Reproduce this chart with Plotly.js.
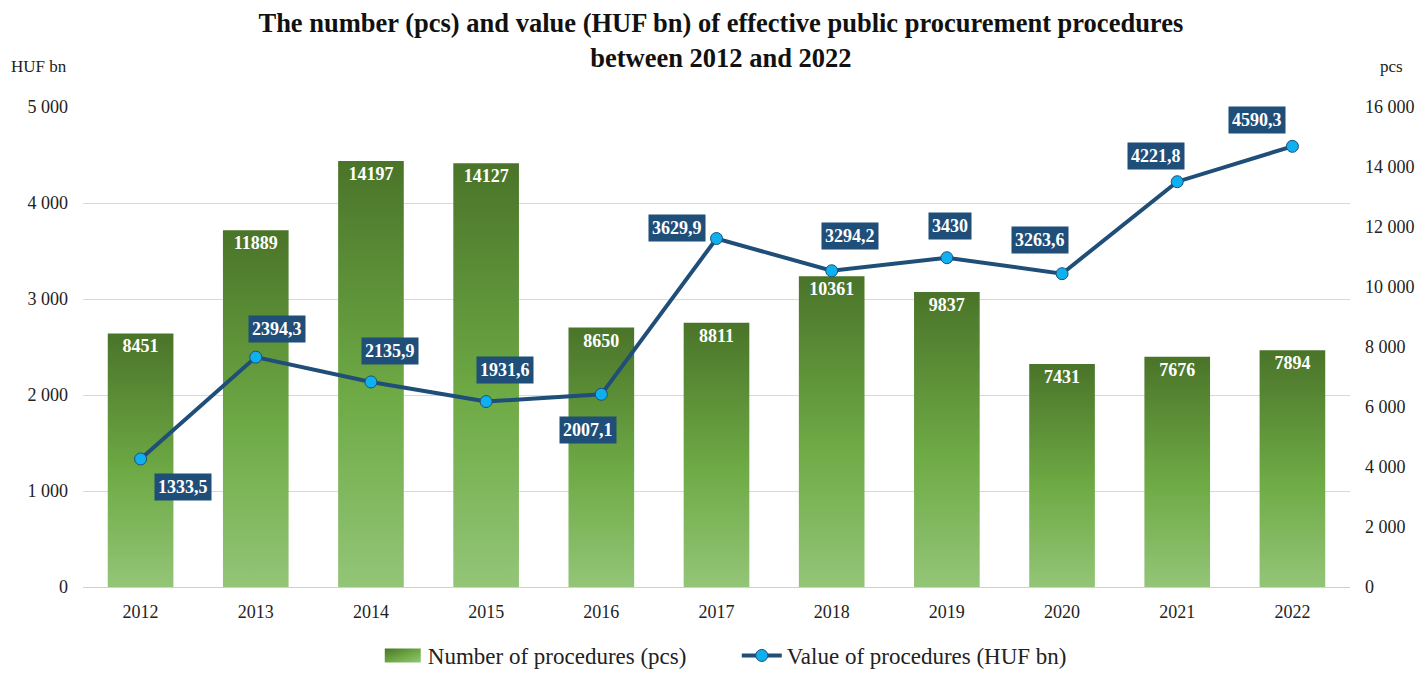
<!DOCTYPE html>
<html>
<head>
<meta charset="utf-8">
<script src="https://cdn.plot.ly/plotly-3.0.1.min.js"></script>
<style>
  html, body { margin: 0; padding: 0; background: #fff; }
  #chart { width: 1419px; height: 677px; }
</style>
</head>
<body>
<div id="chart"></div>
<script>
// data
const years = ['2012', '2013', '2014', '2015', '2016', '2017', '2018', '2019', '2020', '2021', '2022'];
const procCount = [8451, 11889, 14197, 14127, 8650, 8811, 10361, 9837, 7431, 7676, 7894];
const procValue = [1333.5, 2394.3, 2135.9, 1931.6, 2007.1, 3629.9, 3294.2, 3430, 3263.6, 4221.8, 4590.3];

// where each value box sits relative to its point (px)
const labelShift = [
  [42, -28], [21, 28], [19, 31], [19, 32], [-13, -36], [-40, 11],
  [18, 35], [3, 32], [-22, 34], [-21, 26], [-35, 26]
];

const serif = 'Liberation Serif, Times New Roman, serif';
const fmt = v => String(v).replace('.', ',');
const spaceThousands = v => String(v).replace(/\B(?=(\d{3})+(?!\d))/g, ' ');
const leftTicks = [0, 1000, 2000, 3000, 4000, 5000];
const rightTicks = [0, 2000, 4000, 6000, 8000, 10000, 12000, 14000, 16000];

// bars live on the main (right-hand, pcs) axis so the line overlay draws above them
const bars = {
  x: years,
  y: procCount,
  type: 'bar',
  name: 'Number of procedures (pcs)',
  yaxis: 'y',
  marker: { color: '#6aa343' },
  text: procCount.map(String),
  textposition: 'inside',
  insidetextanchor: 'end',
  textfont: { family: serif, size: 18, color: '#ffffff', weight: 'bold' },
  hoverinfo: 'x+y'
};

const line = {
  x: years,
  y: procValue,
  type: 'scatter',
  mode: 'lines+markers',
  name: 'Value of procedures (HUF bn)',
  yaxis: 'y2',
  line: { color: '#1f4e79', width: 4 },
  marker: { color: '#0fb0f0', size: 12, line: { color: '#1f4e79', width: 1 } }
};

const valueBoxes = procValue.map((v, i) => ({
  x: i,
  y: v,
  xref: 'x',
  yref: 'y2',
  text: '<b>' + fmt(v) + '</b>',
  showarrow: false,
  xshift: labelShift[i][0],
  yshift: labelShift[i][1],
  bgcolor: '#1f4e79',
  borderpad: 3,
  font: { family: serif, size: 18, color: '#ffffff' }
}));

const layout = {
  width: 1419,
  height: 677,
  margin: { t: 107, b: 90, l: 83, r: 69 },
  paper_bgcolor: '#ffffff',
  plot_bgcolor: '#ffffff',
  font: { family: serif, size: 18, color: '#222222' },
  title: {
    text: '<b>The number (pcs) and value (HUF bn) of effective public procurement procedures<br>between 2012 and 2022</b>',
    font: { family: serif, size: 26.5, color: '#111111' },
    x: 0.508,
    xanchor: 'center',
    y: 0.952,
    yanchor: 'top'
  },
  bargap: 0.43,
  showlegend: true,
  xaxis: {
    type: 'category',
    range: [-0.5, years.length - 0.5],
    showgrid: false,
    showline: true,
    linecolor: '#d0d0d0',
    linewidth: 1,
    ticks: '',
    ticklabelstandoff: 8,
    tickfont: { family: serif, size: 18, color: '#222222' }
  },
  yaxis: {
    side: 'right',
    range: [0, 16000],
    tickvals: rightTicks,
    ticktext: rightTicks.map(spaceThousands),
    showgrid: false,
    zeroline: false,
    ticks: '',
    ticklabelstandoff: 14,
    tickfont: { family: serif, size: 18, color: '#222222' }
  },
  yaxis2: {
    overlaying: 'y',
    side: 'left',
    range: [0, 5000],
    tickvals: leftTicks,
    ticktext: leftTicks.map(spaceThousands),
    showgrid: true,
    gridcolor: '#d9d9d9',
    gridwidth: 1,
    zeroline: false,
    ticks: '',
    ticklabelstandoff: 14,
    tickfont: { family: serif, size: 18, color: '#222222' }
  },
  legend: {
    orientation: 'h',
    xref: 'paper',
    x: 0.516,
    xanchor: 'center',
    yref: 'container',
    y: -0.018,
    yanchor: 'bottom',
    font: { family: serif, size: 23, color: '#222222' },
    itemwidth: 40,
    entrywidth: 304,
    entrywidthmode: 'pixels',
    traceorder: 'normal'
  },
  annotations: valueBoxes.concat([
    {
      text: 'HUF bn', xref: 'paper', yref: 'paper', x: -0.035, y: 1.085,
      xanchor: 'center', yanchor: 'middle', showarrow: false,
      font: { family: serif, size: 17, color: '#222222' }
    },
    {
      text: 'pcs', xref: 'paper', yref: 'paper', x: 1.033, y: 1.085,
      xanchor: 'center', yanchor: 'middle', showarrow: false,
      font: { family: serif, size: 17, color: '#222222' }
    }
  ])
};

Plotly.newPlot('chart', [bars, line], layout, { displayModeBar: false, staticPlot: true }).then(gd => {
  // vertical gradient on bars, dark at top, light at bottom
  const svg = gd.querySelector('svg.main-svg');
  const ns = 'http://www.w3.org/2000/svg';
  let defs = svg.querySelector('defs');
  if (!defs) { defs = document.createElementNS(ns, 'defs'); svg.insertBefore(defs, svg.firstChild); }
  const mkGrad = (id, x2, y2) => {
    const grad = document.createElementNS(ns, 'linearGradient');
    grad.setAttribute('id', id);
    grad.setAttribute('x1', '0'); grad.setAttribute('y1', '0');
    grad.setAttribute('x2', x2); grad.setAttribute('y2', y2);
    [['0', '#4a7429'], ['0.55', '#6eaa45'], ['1', '#93c577']].forEach(([o, c]) => {
      const s = document.createElementNS(ns, 'stop');
      s.setAttribute('offset', o); s.setAttribute('stop-color', c);
      grad.appendChild(s);
    });
    defs.appendChild(grad);
  };
  mkGrad('barGrad', '0', '1');
  mkGrad('legGrad', '1', '1');
  gd.querySelectorAll('.barlayer .point path').forEach(p => { p.style.fill = 'url(#barGrad)'; });
  const firstItem = gd.querySelectorAll('.legend .traces')[0];
  if (firstItem) firstItem.querySelectorAll('.legendpoints path').forEach(p => {
    p.setAttribute('d', 'M-18,-7h36v14h-36z');
    p.style.fill = 'url(#legGrad)';
    p.style.stroke = 'none';
  });
});
</script>
</body>
</html>
